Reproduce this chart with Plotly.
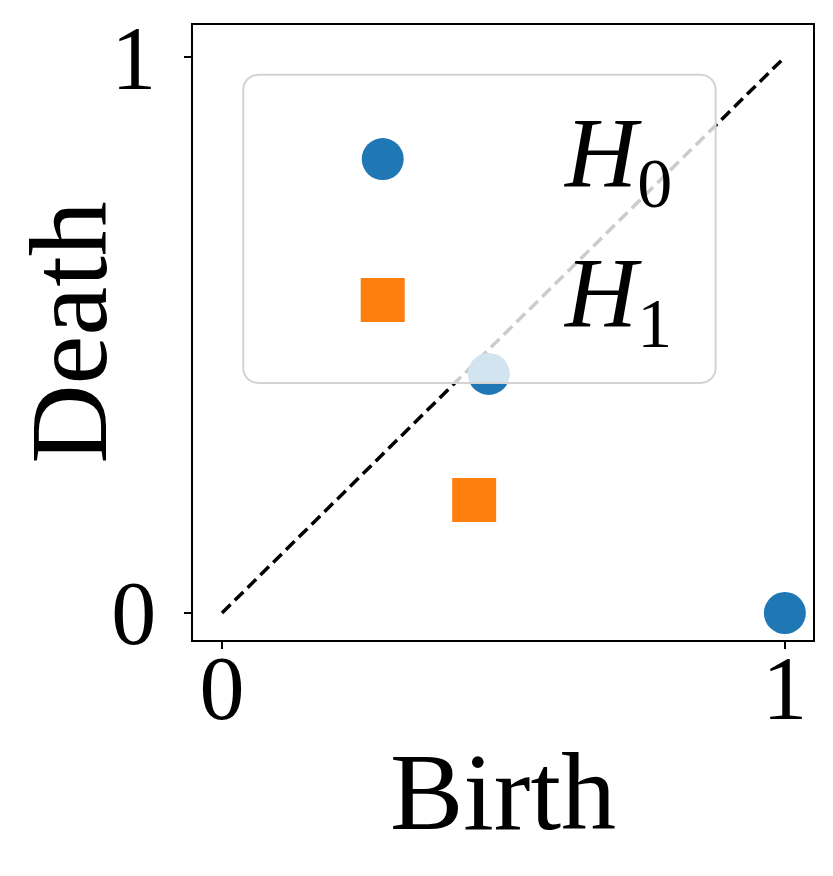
import numpy as np
import plotly.graph_objects as go

# persistence pairs (birth, death)
h0_birth = [0.474, 1.0]
h0_death = [0.43, 0.0]
h1_birth = [0.448]
h1_death = [0.203]
diag = [0, 1]
tick_vals = [0, 1]
tick_text = ["0", "1"]
labels = ["<i>H</i><sub>0</sub>", "<i>H</i><sub>1</sub>"]

BLUE = "#1f77b4"
ORANGE = "#ff7f0e"
FONT = "Liberation Serif"

fig = go.Figure()

fig.add_trace(go.Scatter(
    x=diag, y=diag, mode="lines",
    line=dict(color="black", width=3.5, dash="12px,6px"),
    showlegend=False, hoverinfo="skip",
))
fig.add_trace(go.Scatter(
    x=h0_birth, y=h0_death, mode="markers",
    marker=dict(symbol="circle", size=42, color=BLUE),
    cliponaxis=False, showlegend=False,
))
fig.add_trace(go.Scatter(
    x=h1_birth, y=h1_death, mode="markers",
    marker=dict(symbol="square", size=44, color=ORANGE),
    cliponaxis=False, showlegend=False,
))

# hand-made legend on an overlaid [0,1] axis pair, so the box sits above the data
bx0, bx1, by0, by1, rad = 0.081, 0.843, 0.418, 0.919, 0.024
t = np.linspace(0, np.pi / 2, 12)
corners = [
    (bx1 - rad, by1 - rad, 0.0),
    (bx0 + rad, by1 - rad, np.pi / 2),
    (bx0 + rad, by0 + rad, np.pi),
    (bx1 - rad, by0 + rad, 1.5 * np.pi),
]
px, py = [], []
for cx, cy, a0 in corners:
    px += list(cx + rad * np.cos(t + a0))
    py += list(cy + rad * np.sin(t + a0))
px.append(px[0])
py.append(py[0])

fig.add_trace(go.Scatter(
    x=px, y=py, xaxis="x2", yaxis="y2", mode="lines",
    fill="toself", fillcolor="rgba(255,255,255,0.8)",
    line=dict(color="#d3d3d3", width=2),
    showlegend=False, hoverinfo="skip",
))
key_y = [0.782, 0.553]
fig.add_trace(go.Scatter(
    x=[0.306], y=[key_y[0]], xaxis="x2", yaxis="y2", mode="markers",
    marker=dict(symbol="circle", size=42, color=BLUE),
    showlegend=False, hoverinfo="skip",
))
fig.add_trace(go.Scatter(
    x=[0.306], y=[key_y[1]], xaxis="x2", yaxis="y2", mode="markers",
    marker=dict(symbol="square", size=44, color=ORANGE),
    showlegend=False, hoverinfo="skip",
))
for lab, ky in zip(labels, key_y):
    fig.add_annotation(
        x=0.593, y=ky, xref="x2", yref="y2", text=lab,
        xanchor="left", yanchor="middle", showarrow=False,
        font=dict(family=FONT, size=100, color="black"),
    )

axis_common = dict(
    showgrid=False, zeroline=False, automargin=False,
    showline=True, linecolor="black", linewidth=1.5, mirror=True,
    ticks="outside", ticklen=7, tickwidth=1.5, tickcolor="black",
    tickvals=tick_vals, ticktext=tick_text,
    tickfont=dict(family=FONT, size=90, color="black"),
)

fig.update_layout(
    width=833, height=876,
    margin=dict(l=185, r=28, t=17, b=244),
    plot_bgcolor="white", paper_bgcolor="white",
    showlegend=False,
    xaxis=dict(range=[-0.0515, 1.05], ticklabelstandoff=-38,
               title=dict(text="Birth", font=dict(family=FONT, size=110, color="black")),
               **axis_common),
    yaxis=dict(range=[-0.0486, 1.0576], ticklabelstandoff=10,
               title=dict(text="Death", font=dict(family=FONT, size=110, color="black")),
               **axis_common),
    xaxis2=dict(range=[0, 1], overlaying="x", visible=False),
    yaxis2=dict(range=[0, 1], overlaying="y", visible=False),
)

fig.write_html("out.html")
